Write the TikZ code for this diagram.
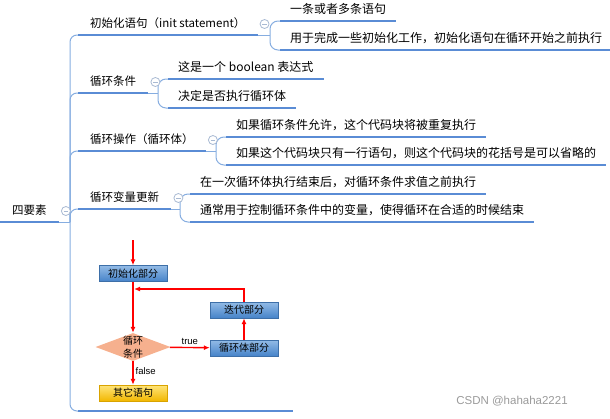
\documentclass[tikz,border=0pt]{standalone}
\usepackage{fontspec}
\setmainfont{Noto Sans CJK SC}
\newfontfamily\arial{Liberation Sans}
\usetikzlibrary{calc,arrows.meta,shapes.geometric,positioning}
\definecolor{mapline}{HTML}{86ADE0}
\definecolor{topicline}{HTML}{5A8CD5}
\definecolor{foldc}{HTML}{A9BAD3}
\definecolor{boxtop}{HTML}{93BBE6}
\definecolor{boxbot}{HTML}{4683C9}
\definecolor{boxedge}{HTML}{3D6FA8}
\definecolor{yeltop}{HTML}{FFE57A}
\definecolor{yelbot}{HTML}{F2B700}
\definecolor{yeledge}{HTML}{D9A300}
\definecolor{diamc}{HTML}{F6B08E}
\definecolor{markc}{HTML}{9A9A9A}
\newcommand{\fold}[1]{\draw[foldc,fill=white,line width=.8pt] ($(#1.south east)+(7,-11)$) circle (4.5pt);\draw[foldc,line width=.8pt] ($(#1.south east)+(4.6,-11)$)--++(4.8,0);}
\newcommand{\kids}[3]{\draw[mapline,line width=1pt,rounded corners=8pt] (#2.south west)--++(-10,0) coordinate (#1k) |- (#3.south west);\draw[mapline,line width=1pt] (#1.south east)--(#1k |- #1.south east);}

\begin{document}
\begin{tikzpicture}[x=1pt,y=-1pt,
  topic/.style={anchor=south west,inner xsep=10pt,inner ysep=5pt,text height=10pt,text depth=2pt,font=\fontsize{12}{14}\selectfont},
  main/.style={topic,inner xsep=12pt,font=\fontsize{11.5}{14}\selectfont},
  box/.style={draw=boxedge,line width=.4pt,top color=boxtop,bottom color=boxbot,minimum width=68pt,minimum height=16pt,inner sep=0pt,font=\fontsize{10}{12}\selectfont},
  flowarr/.style={red,line width=1.4pt,-{Latex[length=6pt,width=5pt]}},
  flowlbl/.style={text=black,font=\arial\fontsize{9.5}{10}\selectfont,inner sep=2pt}]
\useasboundingbox (0,0) rectangle (610,418);
% mind map
\node[main] (four) at (0,222) {四要素};
\node[main] (init) at (78,35) {初始化语句（init statement）};
\node[main] (test) at (78,93) {循环条件};
\node[main] (body) at (78,151) {循环操作（循环体）};
\node[main] (update) at (78,209) {循环变量更新};
\node[anchor=south west,minimum width=215pt,minimum height=170pt,inner sep=0pt] (flow) at (78,411) {};
\node[topic] (init1) at (280,21) {一条或者多条语句};
\node[topic] (init2) at (280,50) {用于完成一些初始化工作，初始化语句在循环开始之前执行};
\node[topic] (test1) at (168,79) {这是一个 boolean 表达式};
\node[topic] (test2) at (168,108) {决定是否执行循环体};
\node[topic] (body1) at (226,137) {如果循环条件允许，这个代码块将被重复执行};
\node[topic] (body2) at (226,165) {如果这个代码块只有一行语句，则这个代码块的花括号是可以省略的};
\node[topic] (update1) at (190,194) {在一次循环体执行结束后，对循环条件求值之前执行};
\node[topic] (update2) at (190,222) {通常用于控制循环条件中的变量，使得循环在合适的时候结束};
\coordinate (hub) at (70,222);
\draw[mapline,line width=1pt] (four.south east)--(hub);
\foreach \n in {init,test,body,update,flow}
  \draw[mapline,line width=1pt,rounded corners=7pt] (hub) |- (\n.south west);
\kids{init}{init1}{init2}\kids{test}{test1}{test2}\kids{body}{body1}{body2}\kids{update}{update1}{update2}
\foreach \n in {four,init,test,body,update,flow,init1,init2,test1,test2,body1,body2,update1,update2}
  \draw[topicline,line width=2.6pt] (\n.south west)--(\n.south east);
\foreach \n in {four,init,test,body,update} \fold{\n}
% flow chart
\coordinate (fstart) at (133,240);
\node[box] (finit) at (133,273.5) {初始化部分};
\node[diamond,fill=diamc,minimum width=75pt,minimum height=28pt,inner sep=0pt] (ftest) at (133,347) {};
\node[font=\fontsize{10}{12.5}\selectfont,align=center,inner sep=0pt] (ftesttxt) at (ftest) {循环\\条件};
\node[box] (fiter) at (244,310) {迭代部分};
\node[box] (fbody) at (244,348) {循环体部分};
\node[box,top color=yeltop,bottom color=yelbot,draw=yeledge] (fother) at (133,393) {其它语句};
\coordinate (fback) at (134,289);
\draw[flowarr] (fstart)--(finit);
\draw[flowarr] (finit)--(ftest);
\draw[flowarr] (ftest)--node[flowlbl,above]{true}(fbody);
\draw[flowarr] (fbody)--(fiter);
\draw[flowarr] (fiter) |- (fback);
\draw[flowarr] (ftest)--node[flowlbl,right,pos=.4]{false}(fother);
\node[font=\arial\fontsize{11.5}{13}\selectfont,text=markc] (mark) at (512,401) {CSDN @hahaha2221};
\end{tikzpicture}
\end{document}
